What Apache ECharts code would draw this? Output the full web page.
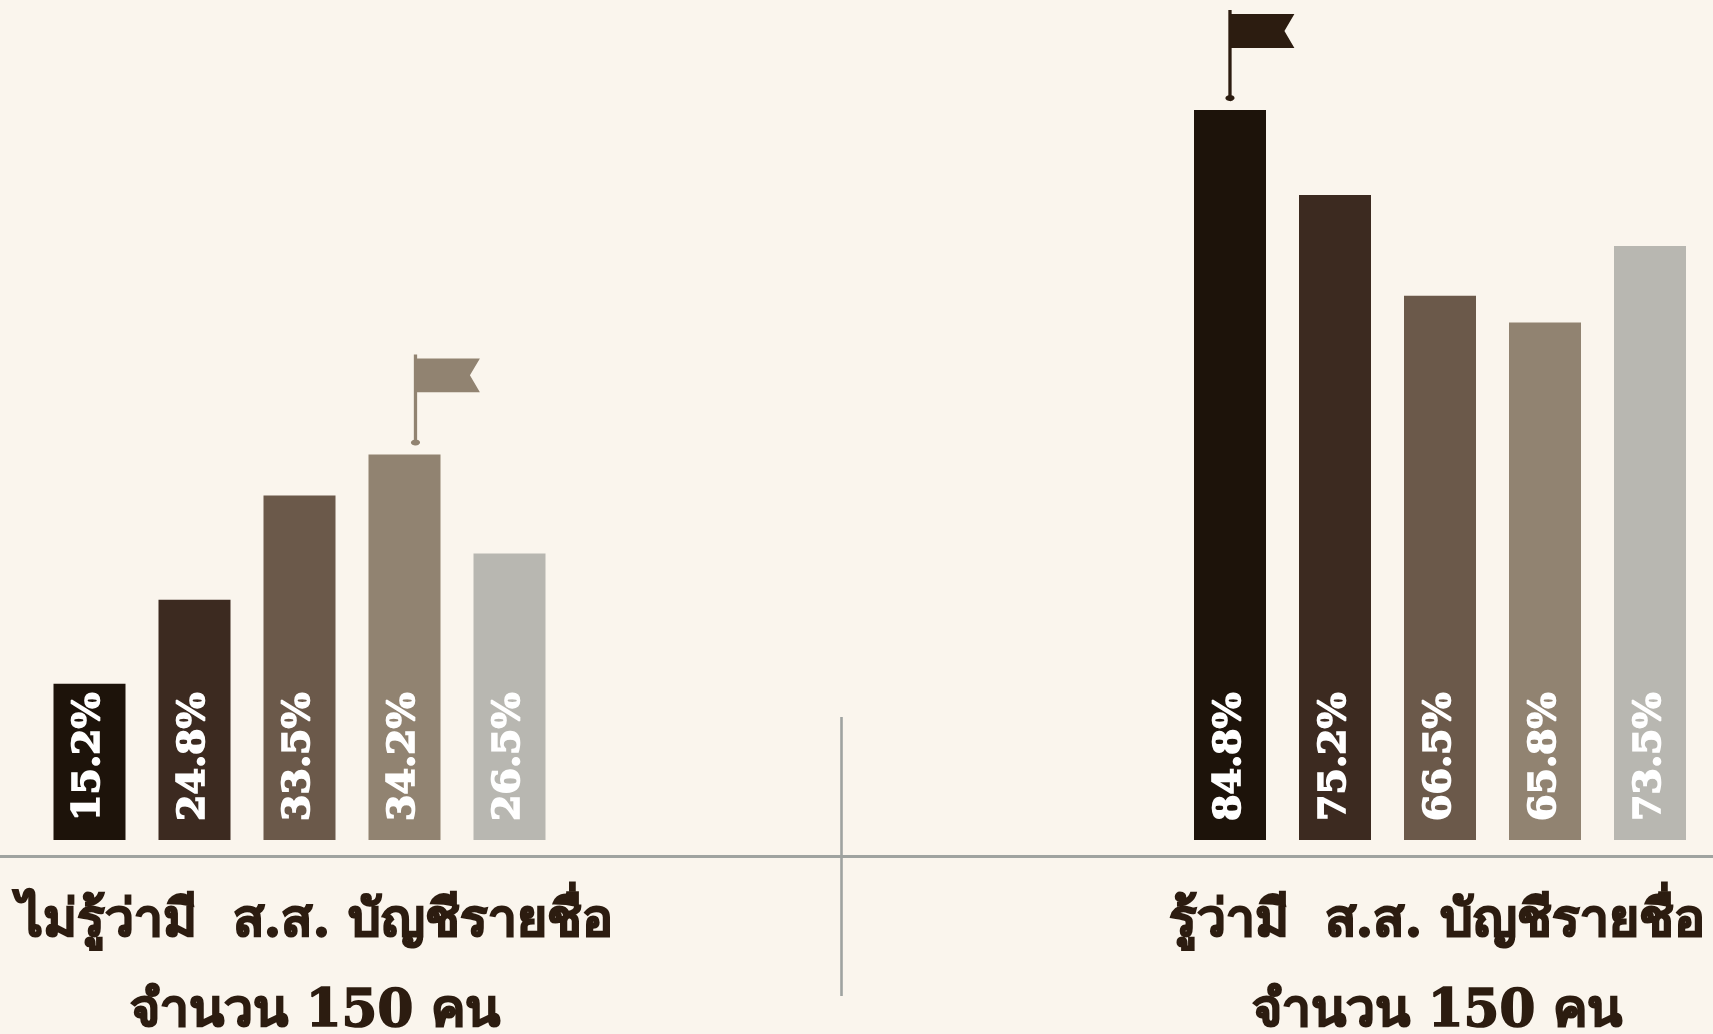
<!DOCTYPE html>
<html><head><meta charset="utf-8">
<style>html,body{margin:0;padding:0;background:#faf5ed}#c{width:1713px;height:1034px}</style>
<script src="https://cdn.jsdelivr.net/npm/echarts@6/dist/echarts.min.js"></script>
</head><body><div id="c"></div>
<script>
// Printed percentages. In the reference the bar heights are not proportional to them,
// so drawn heights are read separately from the picture.
const groupNames = ['ไม่รู้ว่ามี  ส.ส. บัญชีรายชื่อ\nจำนวน 150 คน', 'รู้ว่ามี  ส.ส. บัญชีรายชื่อ\nจำนวน 150 คน'];
const categories = ['a', 'b', 'c', 'd', 'e'];
const leftLabels = ['15.2%', '24.8%', '33.5%', '34.2%', '26.5%'];
const rightLabels = ['84.8%', '75.2%', '66.5%', '65.8%', '73.5%'];
const leftHeights = [18.6, 28.6, 41.0, 45.9, 34.1];
const rightHeights = [86.9, 76.8, 64.8, 61.6, 70.7];
const colors = ['#1d130a', '#3c2a20', '#6b594a', '#918371', '#b8b7b1'];
const flagPath = 'path://M2.7 0H6V4H69L59 21L69 38H6V85.5A4.6 3 0 1 1 2.7 85.5Z';

function group(i, heights, labels, flagIndex, poleShift, flagColor) {
  return [{
    type: 'bar', xAxisIndex: i, yAxisIndex: i, barWidth: 72, silent: true, animation: false,
    data: heights.map((v, k) => ({ value: v, itemStyle: { color: colors[k] } })),
    label: {
      show: true, position: 'insideBottom', distance: 17, rotate: 90, align: 'left', verticalAlign: 'middle',
      offset: [2, 0],
      color: '#fff', fontFamily: 'DejaVu Serif', fontWeight: 'bold', fontSize: 38,
      textBorderColor: '#fff', textBorderWidth: 1.6,
      formatter: p => labels[p.dataIndex]
    }
  }, {
    type: 'scatter', xAxisIndex: i, yAxisIndex: i, silent: true, animation: false,
    symbol: flagPath, symbolSize: [69, 91], symbolKeepAspect: false,
    symbolOffset: [29.9 + poleShift, -54.5],
    itemStyle: { color: flagColor, opacity: 1 },
    data: [[flagIndex, heights[flagIndex]]]
  }];
}
const axisX = i => ({ type: 'category', gridIndex: i, data: categories, show: false });
const axisY = i => ({ type: 'value', gridIndex: i, min: 0, max: 100, show: false });
const titleStyle = {
  fill: '#2c1c10', stroke: '#2c1c10', lineWidth: 1.6,
  fontFamily: 'DejaVu Serif, Noto Sans CJK SC', fontWeight: 'bold', fontSize: 51.5, lineHeight: 90, align: 'center'
};
const chart = echarts.init(document.getElementById('c'), null, { renderer: 'canvas' });
chart.setOption({
  backgroundColor: '#faf5ed', animation: false,
  grid: [
    { left: 37, width: 525, top: 0, height: 840 },
    { left: 1177.5, width: 525, top: 0, height: 840 }
  ],
  xAxis: [axisX(0), axisX(1)],
  yAxis: [axisY(0), axisY(1)],
  series: [...group(0, leftHeights, leftLabels, 3, 11, '#918371'), ...group(1, rightHeights, rightLabels, 0, 0, '#2c1c10')],
  graphic: [
    { type: 'line', silent: true, shape: { x1: 0, y1: 856.5, x2: 1713, y2: 856.5 }, style: { stroke: '#9fa3a0', lineWidth: 3 } },
    { type: 'line', silent: true, shape: { x1: 841.5, y1: 717, x2: 841.5, y2: 996 }, style: { stroke: '#9fa3a0', lineWidth: 2.6 } },
    { type: 'text', silent: true, x: 315, y: 878, style: Object.assign({ text: groupNames[0] }, titleStyle) },
    { type: 'text', silent: true, x: 1437, y: 878, style: Object.assign({ text: groupNames[1] }, titleStyle) }
  ]
});
</script></body></html>
